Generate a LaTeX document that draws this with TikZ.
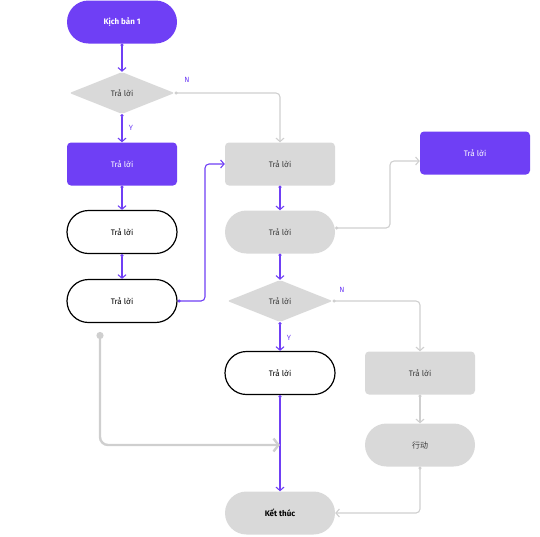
\documentclass[tikz,border=0pt]{standalone}
\usepackage{fontspec}
\setmainfont{Fira Sans}
\newfontfamily\cjk{Noto Sans CJK SC}
\usetikzlibrary{arrows.meta,shapes.geometric,calc}
\definecolor{vio}{HTML}{6F3FF5}
\definecolor{gfill}{HTML}{D9D9D9}
\definecolor{gline}{HTML}{CFCFCF}
\definecolor{gtext}{HTML}{3A3A3A}
\tikzset{
  base/.style={minimum width=110pt,minimum height=43pt,inner sep=0pt,font=\fontsize{8}{9}\selectfont},
  pill/.style={base,rounded corners=21.5pt},
  box/.style={base,rounded corners=4pt},
  vpill/.style={pill,fill=vio,text=white,font=\fontsize{8}{9}\selectfont\bfseries},
  vbox/.style={box,fill=vio,text=white},
  gbox/.style={box,fill=gfill,text=gtext},
  gpill/.style={pill,fill=gfill,text=gtext},
  wpill/.style={pill,draw=black,line width=1.2pt,fill=white,text=black},
  dia/.style={diamond,aspect=2.5,fill=gfill,text=gtext,minimum width=105pt,minimum height=42pt,inner sep=0pt,rounded corners=2pt,font=\fontsize{8}{9}\selectfont},
  vline/.style={draw=vio,line width=1.1pt,rounded corners=4pt,{Circle[length=3pt]}-{Straight Barb[length=3.5pt,width=8pt]}},
  gln/.style={draw=gline,line width=1.1pt,rounded corners=4pt,{Circle[length=3pt]}-{Straight Barb[length=3.5pt,width=8pt]}},
  lbl/.style={text=vio,font=\fontsize{7.5}{8}\selectfont}
}
\begin{document}
\begin{tikzpicture}[x=1pt,y=-1pt]
\useasboundingbox (0,0) rectangle (540,536);
\node[vpill] (start) at (122,22) {Kịch bản 1};
\node[dia] (d1) at (122,93) {Trả lời};
\node[vbox] (p1) at (122,164) {Trả lời};
\node[wpill] (w1) at (122,232) {Trả lời};
\node[wpill] (w2) at (122,301) {Trả lời};
\node[gbox] (g1) at (280,164) {Trả lời};
\node[gpill] (g2) at (280,232) {Trả lời};
\node[vbox] (p2) at (475,153) {Trả lời};
\node[dia] (d2) at (280,301) {Trả lời};
\node[wpill] (w3) at (280,373) {Trả lời};
\node[gbox] (g3) at (420,373) {Trả lời};
\node[gpill] (g4) at (420,445) {\cjk 行动};
\node[gpill,text=black,font=\fontsize{8}{9}\selectfont\bfseries] (end) at (280,513) {Kết thúc};
\coordinate (m1) at (280,445);
% connectors
\draw[vline] (start.south) -- (d1.north);
\draw[vline] (d1.south) -- (p1.north);
\node[lbl] at (131,128) {Y};
\draw[gln] (d1.east) -| (g1.north);
\node[lbl] at (187,80) {N};
\draw[vline] (p1.south) -- (w1.north);
\draw[vline] (w1.south) -- (w2.north);
\draw[vline] (w2.east) -- (205,301) |- (g1.west);
\draw[vline] (g1.south) -- (g2.north);
\draw[gln] ($(g2.east)+(0,-4)$) -- (390,228) |- ($(p2.west)+(0,8)$);
\draw[vline] (g2.south) -- (d2.north);
\draw[vline] (d2.south) -- (w3.north);
\node[lbl] at (289,338) {Y};
\draw[gln] (d2.east) -| (g3.north);
\node[lbl] at (342,290) {N};
\draw[vline] (w3.south) -- (end.north);
\draw[gln] (g3.south) -- (g4.north);
\draw[gln] (g4.south) |- (end.east);
\draw[draw=gline,line width=2.4pt,rounded corners=8pt,{Circle[length=7pt]}-{Straight Barb[length=5pt,width=13pt]}] (100,332) |- (m1);
\end{tikzpicture}
\end{document}
